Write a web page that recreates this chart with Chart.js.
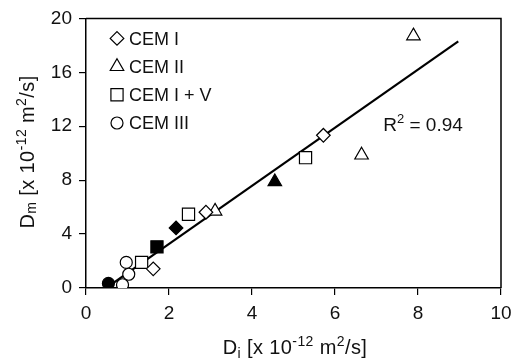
<!DOCTYPE html>
<html>
<head>
<meta charset="utf-8">
<script src="https://cdn.jsdelivr.net/npm/chart.js@4"></script>
<style>
  html, body { margin: 0; padding: 0; background: #fff; }
  #wrap { width: 520px; height: 361px; }
</style>
</head>
<body>
<div id="wrap"><canvas id="chart" width="520" height="361"></canvas></div>
<script>
// values (x = Di, y = Dm, both in 1e-12 m2/s)
const cemIX = [2.89, 5.72, 1.62];
const cemIY = [5.62, 11.33, 1.42];
const cemIFilledX = [2.17];
const cemIFilledY = [4.46];

const cemIIX = [7.89, 6.64, 3.11];
const cemIIY = [18.7, 9.86, 5.7];
const cemIIFilledX = [4.55];
const cemIIFilledY = [7.88];

const cemIVX = [5.29, 2.47, 1.34];
const cemIVY = [9.67, 5.47, 1.9];
const cemIVFilledX = [1.71];
const cemIVFilledY = [3.05];

const cemIIIX = [0.97, 1.03, 0.88];
const cemIIIY = [1.9, 1.02, 0.24];
const cemIIIFilledX = [0.54];
const cemIIIFilledY = [0.34];

// regression line end points
const fitX = [0.6, 8.97];
const fitY = [0.25, 18.29];

const xTicks = [0, 2, 4, 6, 8, 10];
const yTicks = [0, 4, 8, 12, 16, 20];

const legendLabels = ["CEM I", "CEM II", "CEM I + V", "CEM III"];
const legendShapes = ["rectRot", "triangle", "rect", "circle"];
const r2Label = "0.94";

const FONT = "'Liberation Sans', Arial, sans-serif";
const INK = "#111";

function pts(xs, ys) {
    return xs.map((x, i) => ({ x: x, y: ys[i] }));
}

const sizes = { rectRot: 6.8, triangle: 7.8, rect: 8.6, circle: 6 };

function markerSet(xs, ys, shape, filled) {
    return {
        data: pts(xs, ys),
        pointStyle: shape,
        pointRadius: sizes[shape],
        pointHoverRadius: sizes[shape],
        pointBackgroundColor: filled ? "#000" : "#fff",
        pointBorderColor: "#000",
        pointBorderWidth: 1.2,
        showLine: false
    };
}

// draws a string made of normal / sub / superscript pieces, centred on x
function richText(ctx, parts, x, y) {
    let total = 0;
    parts.forEach(p => {
        ctx.font = p.s + "px " + FONT;
        total += ctx.measureText(p.t).width;
    });
    let cx = x - total / 2;
    parts.forEach(p => {
        ctx.font = p.s + "px " + FONT;
        ctx.fillText(p.t, cx, y + (p.dy || 0));
        cx += ctx.measureText(p.t).width;
    });
}

function shape(ctx, kind, x, y, filled) {
    const r = sizes[kind];
    ctx.beginPath();
    if (kind === "rectRot") {
        ctx.moveTo(x, y - r); ctx.lineTo(x + r, y); ctx.lineTo(x, y + r); ctx.lineTo(x - r, y);
        ctx.closePath();
    } else if (kind === "triangle") {
        const h = r * Math.sqrt(3) / 2;
        ctx.moveTo(x, y - r); ctx.lineTo(x + h, y + r / 2); ctx.lineTo(x - h, y + r / 2);
        ctx.closePath();
    } else if (kind === "rect") {
        const s = r * Math.SQRT1_2;
        ctx.rect(x - s, y - s, 2 * s, 2 * s);
    } else {
        ctx.arc(x, y, r, 0, Math.PI * 2);
    }
    ctx.fillStyle = filled ? "#000" : "#fff";
    ctx.fill();
    ctx.lineWidth = 1.2;
    ctx.strokeStyle = "#000";
    ctx.stroke();
}

const decorations = {
    id: "decorations",
    afterDraw(chart) {
        const ctx = chart.ctx;
        const a = chart.chartArea;
        ctx.save();
        // top and right frame
        ctx.strokeStyle = "#000";
        ctx.lineWidth = 1.5;
        ctx.beginPath();
        ctx.moveTo(a.left, a.top);
        ctx.lineTo(a.right, a.top);
        ctx.lineTo(a.right, a.bottom);
        ctx.stroke();

        // legend in the upper left corner
        ctx.textBaseline = "middle";
        legendLabels.forEach((lab, i) => {
            const y = a.top + 20 + i * 28.2;
            shape(ctx, legendShapes[i], a.left + 31, y, false);
            ctx.fillStyle = INK;
            ctx.font = "18px " + FONT;
            ctx.fillText(lab, a.left + 43, y + 1.5);
        });

        // R squared
        ctx.textBaseline = "alphabetic";
        ctx.fillStyle = INK;
        richText(ctx, [
            { t: "R", s: 19 },
            { t: "2", s: 13, dy: -8 },
            { t: " = " + r2Label, s: 19 }
        ], 423, 131);

        // axis titles
        ctx.letterSpacing = "0.4px";
        richText(ctx, [
            { t: "D", s: 20 },
            { t: "i", s: 14, dy: 4 },
            { t: " [x 10", s: 20 },
            { t: "-12", s: 14, dy: -8 },
            { t: " m", s: 20 },
            { t: "2", s: 14, dy: -8 },
            { t: "/s]", s: 20 }
        ], 295, 354);

        ctx.translate(33.5, 152);
        ctx.rotate(-Math.PI / 2);
        richText(ctx, [
            { t: "D", s: 20 },
            { t: "m", s: 14, dy: 2 },
            { t: " [x 10", s: 20 },
            { t: "-12", s: 14, dy: -8 },
            { t: " m", s: 20 },
            { t: "2", s: 14, dy: -8 },
            { t: "/s]", s: 20 }
        ], 0, 0);
        ctx.restore();
    }
};

const lineSet = {
    data: pts(fitX, fitY),
    showLine: true,
    borderColor: "#000",
    borderWidth: 2.2,
    pointRadius: 0,
    pointHoverRadius: 0,
    order: 5
};

new Chart(document.getElementById("chart").getContext("2d"), {
    type: "scatter",
    data: {
        datasets: [
            markerSet(cemIX, cemIY, "rectRot", false),
            markerSet(cemIFilledX, cemIFilledY, "rectRot", true),
            markerSet(cemIIX, cemIIY, "triangle", false),
            markerSet(cemIIFilledX, cemIIFilledY, "triangle", true),
            markerSet(cemIVX, cemIVY, "rect", false),
            markerSet(cemIVFilledX, cemIVFilledY, "rect", true),
            markerSet(cemIIIX, cemIIIY, "circle", false),
            markerSet(cemIIIFilledX, cemIIIFilledY, "circle", true),
            lineSet
        ]
    },
    options: {
        responsive: false,
        animation: false,
        events: [],
        layout: { padding: { top: 15, right: 19, left: 0, bottom: 0 } },
        plugins: { legend: { display: false }, tooltip: { enabled: false } },
        scales: {
            x: {
                type: "linear",
                min: 0,
                max: 10,
                afterFit(scale) { scale.height = 73; },
                afterBuildTicks(scale) { scale.ticks = xTicks.map(v => ({ value: v })); },
                ticks: { font: { size: 19, family: FONT }, color: INK, padding: 7, maxRotation: 0 },
                grid: { drawOnChartArea: false, drawTicks: true, tickLength: 7, color: "#000", lineWidth: 1.2 },
                border: { display: true, color: "#000", width: 1.5 }
            },
            y: {
                type: "linear",
                min: 0,
                max: 20,
                afterFit(scale) { scale.width = 86; },
                afterBuildTicks(scale) { scale.ticks = yTicks.map(v => ({ value: v })); },
                ticks: { font: { size: 19, family: FONT }, color: INK, padding: 7 },
                grid: { drawOnChartArea: false, drawTicks: true, tickLength: 7, color: "#000", lineWidth: 1.2 },
                border: { display: true, color: "#000", width: 1.5 }
            }
        }
    },
    plugins: [decorations]
});
</script>
</body>
</html>
